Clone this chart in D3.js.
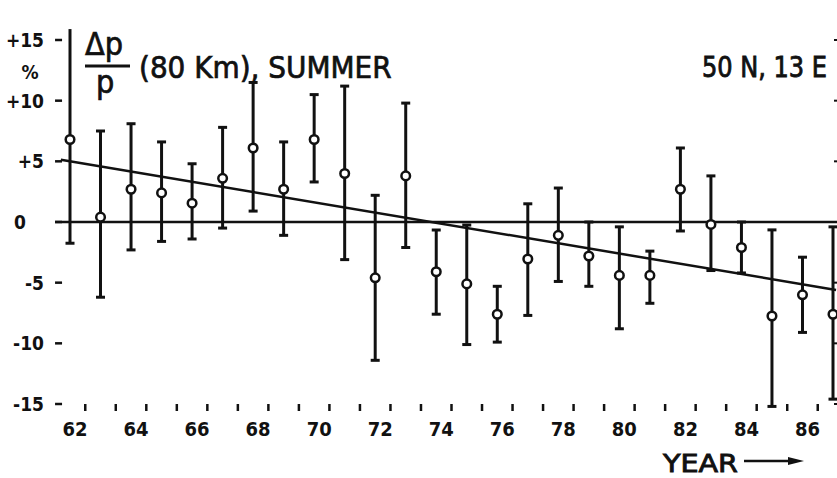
<!DOCTYPE html>
<html>
<head>
<meta charset="utf-8">
<script src="https://cdn.jsdelivr.net/npm/d3@7"></script>
<style>
  body { margin: 0; background: #fff; }
  text { font-family: "DejaVu Sans Condensed", "DejaVu Sans", sans-serif; fill: #111; }
</style>
</head>
<body>
<script>
// data
var years = d3.range(1962, 1988);
var values = [6.8, 0.4, 2.7, 2.4, 1.55, 3.6, 6.1, 2.7, 6.8, 4.0, -4.6, 3.8, -4.1,
              -5.1, -7.6, -3.05, -1.1, -2.8, -4.4, -4.4, 2.7, -0.2, -2.1, -7.75, -6.0, -7.6];
var upper = [15.9, 7.5, 8.1, 6.6, 4.8, 7.8, 11.5, 6.6, 10.5, 11.2, 2.2, 9.8, -0.66,
             -0.25, -5.3, 1.5, 2.8, 0, -0.4, -2.4, 6.1, 3.8, 0, -0.65, -2.9, -0.4];
var lower = [-1.75, -6.2, -2.3, -1.6, -1.4, -0.5, 0.9, -1.1, 3.3, -3.1, -11.4, -2.1, -7.6,
             -10.1, -9.9, -7.7, -4.9, -5.3, -8.8, -6.7, -0.74, -4.0, -4.2, -15.2, -9.1, -14.6];
var trendYears = [1961.7, 1987.1];
var trendValues = [5.13, -5.6];
var yTicks = [15, 10, 5, 0, -5, -10, -15];
var yTickLabels = ["+15", "+10", "+5", "0", "-5", "-10", "-15"];
var xLabelYears = d3.range(1962, 1988, 2);

var W = 837, H = 478;
var svg = d3.select("body").append("svg")
  .attr("width", W).attr("height", H);

var x = d3.scaleLinear().domain([1962, 1987]).range([70, 833]);
var y = d3.scaleLinear().domain([-15, 15]).range([404, 40]);

var left = x(1961.51), right = 837, top = y(17.3), bottom = y(-15);
var ink = "#111";

// frame: left axis, top border, bottom axis
svg.append("path")
  .attr("d", "M" + right + "," + top + "H" + left + "V" + bottom + "H" + right)
  .attr("fill", "none").attr("stroke", ink).attr("stroke-width", 3);

// ticks on x (at year boundaries)
var xTicks = d3.range(1962.5, 1987, 1);
svg.selectAll(".bt").data(xTicks).enter().append("line")
  .attr("x1", d => x(d)).attr("x2", d => x(d))
  .attr("y1", bottom).attr("y2", bottom + 7)
  .attr("stroke", ink).attr("stroke-width", 2.5);
svg.selectAll(".tt").data(xTicks).enter().append("line")
  .attr("x1", d => x(d)).attr("x2", d => x(d))
  .attr("y1", top).attr("y2", top + 6)
  .attr("stroke", ink).attr("stroke-width", 2.5);

// ticks on y
svg.selectAll(".lt").data(yTicks).enter().append("line")
  .attr("x1", left).attr("x2", left + 7)
  .attr("y1", d => y(d)).attr("y2", d => y(d))
  .attr("stroke", ink).attr("stroke-width", 2.5);
svg.selectAll(".rt").data(yTicks).enter().append("line")
  .attr("x1", right - 3).attr("x2", right)
  .attr("y1", d => y(d)).attr("y2", d => y(d))
  .attr("stroke", ink).attr("stroke-width", 2);

// tick labels
svg.selectAll(".yl").data(yTicks).enter().append("text")
  .attr("x", d => d === 0 ? 20 : 44)
  .attr("y", d => y(d) + 7)
  .attr("text-anchor", d => d === 0 ? "middle" : "end")
  .attr("font-size", 19).attr("font-weight", "bold")
  .text((d, i) => yTickLabels[i]);
svg.append("text")
  .attr("x", 30).attr("y", 79)
  .attr("text-anchor", "middle")
  .attr("font-size", 19).attr("font-weight", "bold")
  .text("%");

svg.selectAll(".xl").data(xLabelYears).enter().append("text")
  .attr("x", d => x(d) + 5).attr("y", 436)
  .attr("text-anchor", "middle")
  .attr("font-size", 20).attr("font-weight", "bold")
  .text(d => String(d).slice(2));

// zero line
svg.append("line")
  .attr("x1", left).attr("x2", right)
  .attr("y1", y(0)).attr("y2", y(0))
  .attr("stroke", ink).attr("stroke-width", 2.5);

// trend line
svg.append("line")
  .attr("x1", x(trendYears[0])).attr("y1", y(trendValues[0]))
  .attr("x2", x(trendYears[1])).attr("y2", y(trendValues[1]))
  .attr("stroke", ink).attr("stroke-width", 2.5);

// error bars
var pts = years.map((yr, i) => ({yr: yr, v: values[i], hi: upper[i], lo: lower[i]}));
var g = svg.append("g");
g.selectAll(".eb").data(pts).enter().append("line")
  .attr("x1", d => x(d.yr)).attr("x2", d => x(d.yr))
  .attr("y1", d => y(d.hi)).attr("y2", d => y(d.lo))
  .attr("stroke", ink).attr("stroke-width", 3);
g.selectAll(".cu").data(pts.filter(d => d.hi < 15)).enter().append("line")
  .attr("x1", d => x(d.yr) - 4.5).attr("x2", d => x(d.yr) + 4.5)
  .attr("y1", d => y(d.hi)).attr("y2", d => y(d.hi))
  .attr("stroke", ink).attr("stroke-width", 3);
g.selectAll(".cl").data(pts).enter().append("line")
  .attr("x1", d => x(d.yr) - 4.5).attr("x2", d => x(d.yr) + 4.5)
  .attr("y1", d => y(d.lo)).attr("y2", d => y(d.lo))
  .attr("stroke", ink).attr("stroke-width", 3);
g.selectAll("circle").data(pts).enter().append("circle")
  .attr("cx", d => x(d.yr)).attr("cy", d => y(d.v))
  .attr("r", 4.3)
  .attr("fill", "#fff").attr("stroke", ink).attr("stroke-width", 2.5);

// title: fraction dp / p
svg.append("text")
  .attr("x", 85).attr("y", 55)
  .attr("font-size", 32)
  .attr("stroke", ink).attr("stroke-width", 0.7)
  .text("Δp");
svg.append("line")
  .attr("x1", 85).attr("x2", 130).attr("y1", 66).attr("y2", 66)
  .attr("stroke", ink).attr("stroke-width", 3);
svg.append("text")
  .attr("x", 96).attr("y", 93)
  .attr("font-size", 32)
  .attr("stroke", ink).attr("stroke-width", 0.7)
  .text("p");
svg.append("text")
  .attr("x", 139).attr("y", 78)
  .attr("font-size", 31)
  .attr("stroke", ink).attr("stroke-width", 0.7)
  .text("(80 Km), SUMMER");
svg.append("text")
  .attr("x", 702).attr("y", 77)
  .attr("font-size", 28)
  .attr("textLength", 125).attr("lengthAdjust", "spacingAndGlyphs")
  .attr("stroke", ink).attr("stroke-width", 0.8)
  .text("50 N, 13 E");

// axis name with arrow
svg.append("text")
  .attr("x", 663).attr("y", 472)
  .attr("font-size", 25)
  .attr("textLength", 75).attr("lengthAdjust", "spacingAndGlyphs")
  .attr("stroke", ink).attr("stroke-width", 0.8)
  .text("YEAR");
svg.append("line")
  .attr("x1", 744).attr("x2", 792).attr("y1", 461).attr("y2", 461)
  .attr("stroke", ink).attr("stroke-width", 2.5);
svg.append("path")
  .attr("d", "M788,457 L804,461 L788,465 Z")
  .attr("fill", ink);
</script>
</body>
</html>
